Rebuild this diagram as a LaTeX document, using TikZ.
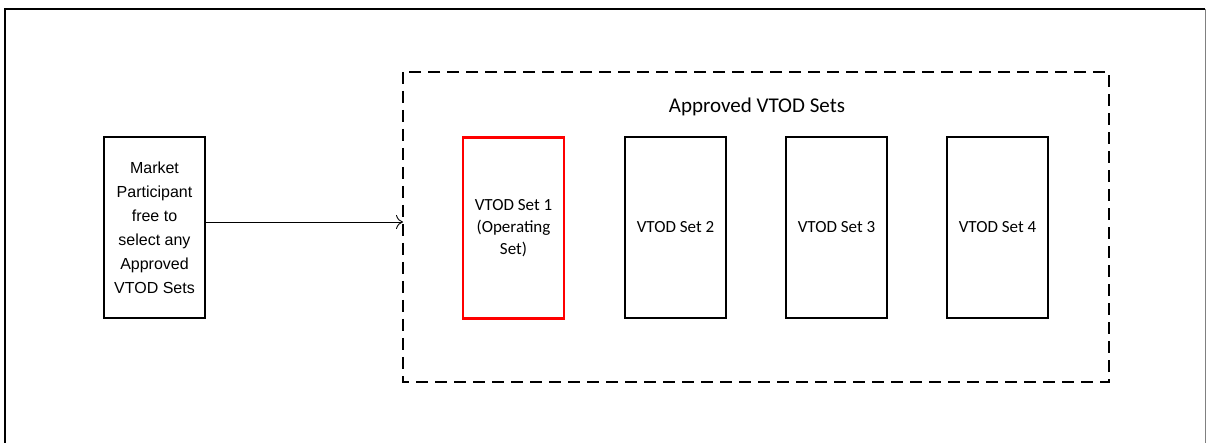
\documentclass[tikz,border=0pt]{standalone}
\usepackage{fontspec}
\setmainfont{Carlito}
\newfontfamily\mpfont{Liberation Sans}
\usetikzlibrary{arrows.meta}
\begin{document}
\begin{tikzpicture}[x=1pt,y=-1pt,
  setbox/.style={draw=black,line width=2.8pt,minimum width=101pt,minimum height=181pt,inner sep=0pt,align=center,font=\fontsize{17}{22}\selectfont},
  redbox/.style={setbox,draw=red},
  mpbox/.style={draw=black,line width=2.8pt,minimum width=101pt,minimum height=181pt,inner sep=0pt,align=center,font=\mpfont\fontsize{16}{24}\selectfont},
  groupbox/.style={draw=black,line width=2.8pt,dash pattern=on 12pt off 7pt},
  conn/.style={-{To[length=7pt,width=14pt]},line width=0.9pt}
]
\useasboundingbox (0,0) rectangle (1207,443);
% outer frame
\draw[line width=2.6pt] (5,443) -- (5,9) -- (1205,9);
\draw[line width=0.9pt,gray] (1205,9) -- (1205,443);
% group box
\draw[groupbox] (403,72) rectangle (1109,382);
\coordinate (gl) at (403,222);
\node[font=\fontsize{21}{25}\selectfont] (title) at (757,107) {Approved VTOD Sets};
\node[mpbox] (mp) at (154.5,227.5) {Market\\Participant\\free to\\select any\\Approved\\VTOD Sets};
\node[redbox] (s1) at (513.5,228) {VTOD Set 1\\(Operating\\Set)};
\node[setbox] (s2) at (675.5,227.5) {VTOD Set 2};
\node[setbox] (s3) at (836.5,227.5) {VTOD Set 3};
\node[setbox] (s4) at (997.5,227.5) {VTOD Set 4};
\draw[conn] (mp.east |- gl) -- (gl);
\end{tikzpicture}
\end{document}
